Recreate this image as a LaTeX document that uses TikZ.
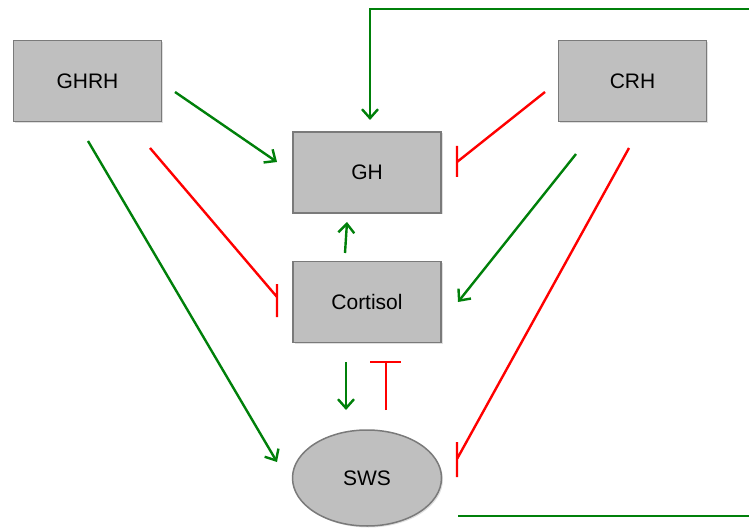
\documentclass[tikz,border=0pt]{standalone}
\usepackage{fontspec}
\setmainfont{Liberation Sans}
\usepackage{tikz}
\usetikzlibrary{positioning, arrows.meta, shadows, shapes.geometric}

\definecolor{boxfill}{HTML}{BFBFBF}
\definecolor{boxline}{HTML}{7A7A7A}
\definecolor{actgreen}{HTML}{00800A}
\definecolor{inhred}{HTML}{FF0000}

\begin{document}
\begin{tikzpicture}[x=1pt, y=-1pt,
  hormone/.style={rectangle, draw=boxline, fill=boxfill, line width=1.5pt,
    minimum width=148pt, minimum height=81pt, font=\fontsize{21}{24}\selectfont,
    drop shadow={shadow xshift=1.5pt, shadow yshift=-1.5pt, opacity=0.25}},
  stage/.style={ellipse, draw=boxline, fill=boxfill, line width=1.5pt,
    minimum width=149pt, minimum height=96pt, inner sep=0pt, font=\fontsize{21}{24}\selectfont,
    drop shadow={shadow xshift=1.5pt, shadow yshift=-1.5pt, opacity=0.25}},
  act/.style={draw=actgreen, line width=2.4pt, -{Straight Barb[length=9pt, width=16pt]}},
  inh/.style={draw=inhred, line width=2.4pt}]
\useasboundingbox (0,0) rectangle (749,529);

% hormones and sleep stage
\node[hormone] (ghrh) at (87.5,81) {GHRH};
\node[hormone] (crh) at (632.5,81) {CRH};
\node[hormone] (gh) at (367,172.5) {GH};
\node[hormone] (cort) at (367,302) {Cortisol};
\node[stage] (sws) at (367,478) {SWS};

% free ends of the connectors
\coordinate (ghrhA) at (175,92);   \coordinate (ghA) at (277,162);
\coordinate (ghrhB) at (88,141);   \coordinate (swsA) at (277,462);
\coordinate (ghrhC) at (150,148);  \coordinate (cortA) at (277,297);
\coordinate (crhA) at (545,92);    \coordinate (ghB) at (457,162);
\coordinate (crhB) at (576,154);   \coordinate (cortB) at (458,302);
\coordinate (crhC) at (629,148);   \coordinate (swsB) at (457,459);
\coordinate (cortC) at (345,253);  \coordinate (ghC) at (347,222);
\coordinate (cortD) at (346,362);  \coordinate (swsC) at (346,410);
\coordinate (swsD) at (386,410);   \coordinate (cortE) at (386,362);
\coordinate (swsE) at (458,516);   \coordinate (ghD) at (370,120);

% activation
\draw[act] (ghrhA) -- (ghA);
\draw[act] (ghrhB) -- (swsA);
\draw[act] (crhB) -- (cortB);
\draw[act] (cortC) -- (ghC);
\draw[act] (cortD) -- (swsC);

% inhibition, upright bars
\draw[inh] (ghrhC) -- (cortA) (cortA) ++(0,-13) -- ++(0,33);
\draw[inh] (crhA) -- (ghB) (ghB) ++(0,-16) -- ++(0,31);
\draw[inh] (crhC) -- (swsB) (swsB) ++(0,-17) -- ++(0,35);
\draw[inh] (swsD) -- (cortE) (cortE) ++(-16,0) -- ++(31,0);

% feedback loop from SWS round to GH
\draw[act] (swsE) -- (752,516) -- (752,9) -- (ghD |- 0,9) -- (ghD);
\end{tikzpicture}
\end{document}
